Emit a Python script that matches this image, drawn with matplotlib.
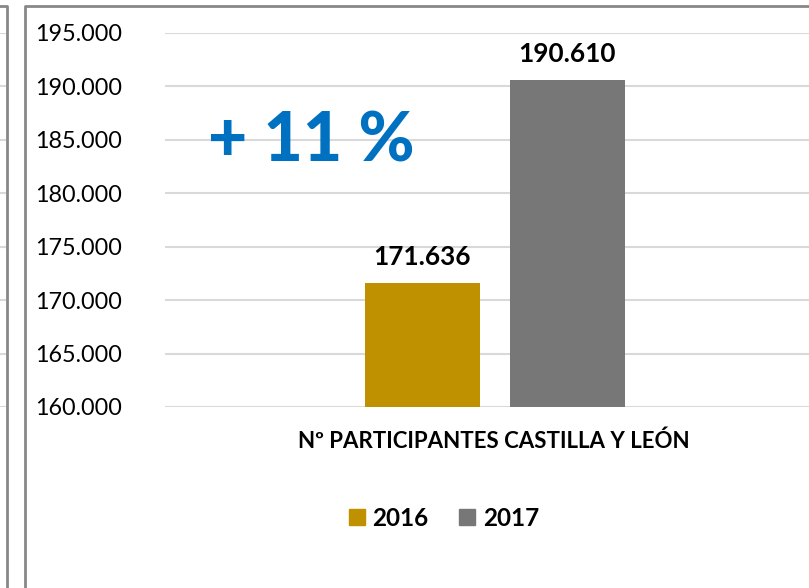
import matplotlib
matplotlib.use("Agg")
import matplotlib.pyplot as plt
from matplotlib.patches import Patch
from matplotlib.lines import Line2D

plt.rcParams['font.family'] = ['Lato', 'DejaVu Sans']

# datos
categoria = "Nº PARTICIPANTES CASTILLA Y LEÓN"
anios = ["2016", "2017"]
participantes = [171636, 190610]
colores = ["#BF9000", "#777777"]
variacion = "+ 11 %"
ticks_y = [160000, 165000, 170000, 175000, 180000, 185000, 190000, 195000]

W, H = 809, 588
fig = plt.figure(figsize=(W / 100, H / 100), dpi=100)

def fx(px):
    return px / W

def fy(py):
    return 1 - py / H

# ejes principales (se salen por la derecha como en la captura)
y_top, y_bot = 33, 407
ax = fig.add_axes([fx(165), fy(y_bot), fx(824 - 165), fy(y_top) - fy(y_bot)])
ax.set_ylim(160000, 195000)
ax.set_xlim(-0.5, 0.5)
ax.set_yticks(ticks_y)
ax.set_yticklabels([f"{v:,}".replace(",", ".") for v in ticks_y], fontsize=16.8)
ax.tick_params(axis='y', length=0, pad=31)
ax.set_xticks([])
ax.grid(axis='y', color='#D9D9D9', linewidth=1.5)
ax.set_axisbelow(True)
for s in ax.spines.values():
    s.set_visible(False)

ancho = 115 / 659
desp = (115 + 30) / 2 / 659
posiciones = [-desp, desp]
for x, v, c, a in zip(posiciones, participantes, colores, anios):
    ax.bar(x, v - 160000, bottom=160000, width=ancho, color=c, label=a)
    ax.annotate(f"{v:,}".replace(",", "."), (x, v), xytext=(0, 13),
                textcoords='offset points', ha='center', va='baseline',
                fontsize=18.8, fontweight='bold')

# resto de gridlines del grafico vecino (izquierda)
ax0 = fig.add_axes([fx(-100), fy(y_bot), fx(106), fy(y_top) - fy(y_bot)])
ax0.set_ylim(160000, 195000)
ax0.set_yticks(ticks_y)
ax0.grid(axis='y', color='#D9D9D9', linewidth=1.5)
ax0.tick_params(left=False, labelleft=False, bottom=False, labelbottom=False)
for s in ax0.spines.values():
    s.set_visible(False)

# marcos
fig.add_artist(Line2D([fx(0), fx(7), fx(7)], [fy(6), fy(6), 0], color='#888888', lw=2))
fig.add_artist(Line2D([fx(25), fx(25), 1], [0, fy(6), fy(6)], color='#888888', lw=2))

fig.text(fx(208), fy(162), variacion, color='#0070C0', fontsize=49,
         fontweight='black', ha='left', va='baseline')

fig.text(fx(494), fy(448), categoria, fontsize=16, fontweight='bold',
         ha='center', va='baseline')

handles = [Patch(color=c, label=a) for c, a in zip(colores, anios)]
fig.legend(handles=handles, loc='center', bbox_to_anchor=(fx(444), fy(518)),
           ncol=2, frameon=False, prop={'weight': 'bold', 'size': 17.5},
           handlelength=0.67, handleheight=0.67, handletextpad=0.3,
           columnspacing=1.25)

fig.savefig("out.png", dpi=100)
